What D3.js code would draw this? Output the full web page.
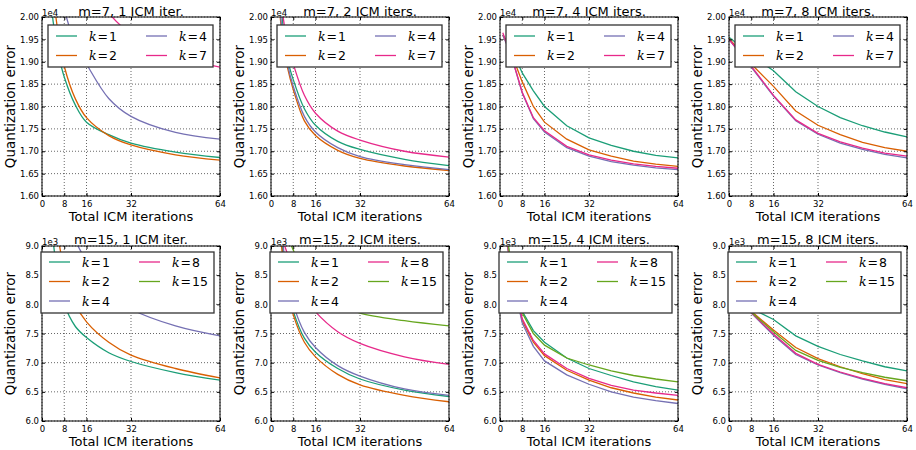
<!DOCTYPE html>
<html>
<head>
<meta charset="utf-8">
<script src="https://cdn.jsdelivr.net/npm/d3@7"></script>
<style>
  body { margin: 0; background: #fff; }
  text { font-family: "DejaVu Sans", sans-serif; fill: #000; }
</style>
</head>
<body>
<div id="chart"></div>
<script>
// x positions (total ICM iterations) at which each run was recorded
const xSmooth = [2, 4, 6, 8, 12, 16, 24, 32, 48, 64];
const xEvery4 = [1, 4, 8, 12, 16, 24, 32, 40, 48, 56, 64];
const xEvery8 = [0, 8, 16, 24, 32, 40, 48, 56, 64];

const xTicks = [0, 8, 16, 32, 64];
const yTicksM7 = [1.60, 1.65, 1.70, 1.75, 1.80, 1.85, 1.90, 1.95, 2.00];
const yTicksM15 = [6.0, 6.5, 7.0, 7.5, 8.0, 8.5, 9.0];

const titles = ["m=7, 1 ICM iter.", "m=7, 2 ICM iters.", "m=7, 4 ICM iters.", "m=7, 8 ICM iters.",
                "m=15, 1 ICM iter.", "m=15, 2 ICM iters.", "m=15, 4 ICM iters.", "m=15, 8 ICM iters."];

const kM7 = [1, 2, 4, 7];
const kM15 = [1, 2, 4, 8, 15];
const colors = ["#1b9e77", "#d95f02", "#7570b3", "#e7298a", "#66a61e"];

// m=7 values (x1e4)
const m7i1 = [
  [2.15, 1.99, 1.915, 1.866, 1.803, 1.765, 1.737, 1.718, 1.698, 1.686],
  [2.30, 2.06, 1.955, 1.89, 1.817, 1.775, 1.735, 1.714, 1.692, 1.680],
  [2.60, 2.30, 2.12, 2.02, 1.94, 1.895, 1.818, 1.778, 1.742, 1.727],
  [3.20, 2.80, 2.55, 2.40, 2.22, 2.12, 2.01, 1.963, 1.915, 1.888]
];
const m7i2 = [
  [2.20, 2.00, 1.905, 1.86, 1.795, 1.758, 1.722, 1.704, 1.682, 1.668],
  [2.10, 1.96, 1.885, 1.838, 1.768, 1.735, 1.702, 1.684, 1.667, 1.657],
  [2.12, 1.97, 1.893, 1.845, 1.778, 1.743, 1.708, 1.688, 1.670, 1.659],
  [2.35, 2.02, 1.94, 1.895, 1.825, 1.785, 1.745, 1.725, 1.700, 1.687]
];
const m7i4 = [
  [1.96, 1.93, 1.875, 1.835, 1.80, 1.757, 1.730, 1.713, 1.700, 1.691, 1.685],
  [1.96, 1.92, 1.855, 1.80, 1.765, 1.727, 1.703, 1.689, 1.678, 1.671, 1.666],
  [1.96, 1.915, 1.83, 1.773, 1.743, 1.708, 1.689, 1.677, 1.669, 1.663, 1.659],
  [1.965, 1.915, 1.832, 1.775, 1.746, 1.711, 1.692, 1.680, 1.672, 1.666, 1.662]
];
const m7i8 = [
  [1.955, 1.915, 1.88, 1.833, 1.80, 1.775, 1.757, 1.743, 1.732],
  [1.952, 1.895, 1.845, 1.79, 1.758, 1.737, 1.72, 1.708, 1.70],
  [1.950, 1.888, 1.823, 1.768, 1.738, 1.718, 1.704, 1.693, 1.685],
  [1.950, 1.890, 1.825, 1.770, 1.740, 1.721, 1.707, 1.696, 1.689]
];

// m=15 values (x1e3)
const m15i1 = [
  [10.5, 9.1, 8.4, 8.0, 7.62, 7.43, 7.17, 7.02, 6.83, 6.70],
  [12.0, 10.0, 9.1, 8.6, 8.0, 7.70, 7.35, 7.13, 6.90, 6.74],
  [15.0, 12.0, 10.5, 9.9, 9.1, 8.75, 8.2, 7.92, 7.63, 7.46],
  [20.0, 16.0, 14.0, 13.0, 12.0, 11.4, 10.8, 10.4, 10.0, 9.8],
  [25.0, 20.0, 18.0, 17.0, 15.5, 14.6, 13.6, 13.0, 12.4, 12.0]
];
const m15i2 = [
  [10.5, 9.0, 8.25, 7.88, 7.42, 7.18, 6.90, 6.72, 6.53, 6.42],
  [10.2, 8.9, 8.2, 7.82, 7.35, 7.10, 6.80, 6.62, 6.44, 6.33],
  [10.8, 9.2, 8.4, 8.0, 7.52, 7.26, 6.95, 6.77, 6.55, 6.44],
  [13.0, 9.2, 8.85, 8.55, 8.12, 7.87, 7.53, 7.33, 7.10, 6.97],
  [14.0, 10.8, 9.2, 8.93, 8.5, 8.25, 8.0, 7.85, 7.72, 7.63]
];
const m15i4 = [
  [9.6, 8.7, 7.88, 7.55, 7.35, 7.08, 6.90, 6.78, 6.67, 6.59, 6.53],
  [9.6, 8.6, 7.72, 7.35, 7.12, 6.87, 6.70, 6.57, 6.48, 6.41, 6.36],
  [9.6, 8.55, 7.68, 7.28, 7.03, 6.79, 6.63, 6.50, 6.41, 6.35, 6.30],
  [9.6, 8.6, 7.75, 7.38, 7.15, 6.90, 6.73, 6.61, 6.53, 6.48, 6.44],
  [9.6, 8.7, 7.85, 7.50, 7.30, 7.08, 6.96, 6.86, 6.78, 6.72, 6.67]
];
const m15i8 = [
  [8.3, 7.93, 7.74, 7.46, 7.28, 7.14, 7.03, 6.93, 6.86],
  [8.3, 7.88, 7.56, 7.26, 7.07, 6.93, 6.81, 6.71, 6.64],
  [8.3, 7.85, 7.47, 7.14, 6.96, 6.83, 6.72, 6.63, 6.55],
  [8.3, 7.86, 7.49, 7.16, 6.97, 6.84, 6.73, 6.64, 6.57],
  [8.3, 7.87, 7.53, 7.21, 7.04, 6.92, 6.83, 6.75, 6.69]
];

const panels = [
  { xs: xSmooth, vals: m7i1, ks: kM7, smooth: true },
  { xs: xSmooth, vals: m7i2, ks: kM7, smooth: true },
  { xs: xEvery4, vals: m7i4, ks: kM7, smooth: false },
  { xs: xEvery8, vals: m7i8, ks: kM7, smooth: false },
  { xs: xSmooth, vals: m15i1, ks: kM15, smooth: true },
  { xs: xSmooth, vals: m15i2, ks: kM15, smooth: true },
  { xs: xEvery4, vals: m15i4, ks: kM15, smooth: false },
  { xs: xEvery8, vals: m15i8, ks: kM15, smooth: false }
];

const width = 916, height = 450;
const plotW = 178;
const rowTop = [17, 246];
const rowH = [179, 175];

const svg = d3.select("#chart").append("svg")
  .attr("width", width)
  .attr("height", height);

panels.forEach((p, i) => {
  const row = i < 4 ? 0 : 1;
  const col = i % 4;
  const left = 42 + col * 229;
  const top = rowTop[row];
  const h = rowH[row];
  const yTicks = row === 0 ? yTicksM7 : yTicksM15;
  const fmt = row === 0 ? d3.format(".2f") : d3.format(".1f");

  const x = d3.scaleLinear().domain([0, 64]).range([0, plotW]);
  const y = d3.scaleLinear().domain([yTicks[0], yTicks[yTicks.length - 1]]).range([h, 0]);

  const g = svg.append("g").attr("transform", `translate(${left},${top})`);

  // dotted grid
  g.append("g").selectAll("line").data(xTicks).enter().append("line")
    .attr("x1", d => x(d)).attr("x2", d => x(d))
    .attr("y1", 0).attr("y2", h)
    .attr("stroke", "#000").attr("stroke-width", 0.6).attr("stroke-dasharray", "1,2");
  g.append("g").selectAll("line").data(yTicks).enter().append("line")
    .attr("x1", 0).attr("x2", plotW)
    .attr("y1", d => y(d)).attr("y2", d => y(d))
    .attr("stroke", "#000").attr("stroke-width", 0.6).attr("stroke-dasharray", "1,2");

  // clip to plot area
  const clipId = `clip${i}`;
  g.append("clipPath").attr("id", clipId)
    .append("rect").attr("width", plotW).attr("height", h);

  const line = d3.line()
    .x(d => x(d[0]))
    .y(d => y(d[1]))
    .curve(p.smooth ? d3.curveCatmullRom.alpha(0.5) : d3.curveLinear);

  g.append("g").attr("clip-path", `url(#${clipId})`)
    .selectAll("path").data(p.vals).enter().append("path")
    .attr("d", v => line(v.map((val, j) => [p.xs[j], val])))
    .attr("fill", "none")
    .attr("stroke", (v, j) => colors[j])
    .attr("stroke-width", 1.3);

  // axes, ticks pointing inward on all sides
  g.append("g").attr("transform", `translate(0,${h})`)
    .call(d3.axisBottom(x).tickValues(xTicks).tickSize(-3).tickPadding(4.5));
  g.append("g")
    .call(d3.axisLeft(y).tickValues(yTicks).tickFormat(fmt).tickSize(-3).tickPadding(3));
  g.append("g").call(d3.axisTop(x).tickValues(xTicks).tickSize(-3).tickFormat(""));
  g.append("g").attr("transform", `translate(${plotW},0)`)
    .call(d3.axisRight(y).tickValues(yTicks).tickSize(-3).tickFormat(""));
  g.selectAll(".domain").remove();
  g.selectAll(".tick text").style("font-family", "DejaVu Sans").style("font-size", "8.5px");

  g.append("rect").attr("width", plotW).attr("height", h)
    .attr("fill", "none").attr("stroke", "#000").attr("stroke-width", 1);

  // offset text
  g.append("text").attr("x", 0).attr("y", -1)
    .style("font-size", "8.5px")
    .text(row === 0 ? "1e4" : "1e3");

  // title and axis labels
  g.append("text").attr("x", plotW / 2).attr("y", row === 0 ? -1 : -2.5)
    .attr("text-anchor", "middle").style("font-size", "13px")
    .text(titles[i]);
  g.append("text").attr("x", plotW / 2).attr("y", h + 24.5)
    .attr("text-anchor", "middle").style("font-size", "13px")
    .text("Total ICM iterations");
  g.append("text")
    .attr("transform", `translate(-27,${h / 2}) rotate(-90)`)
    .attr("text-anchor", "middle").style("font-size", "13.5px")
    .text("Quantization error");

  // legend
  const nRows = Math.ceil(p.ks.length / 2);
  const lg = g.append("g").attr("transform", row === 0 ? "translate(6,8)" : "translate(-1,6)");
  const lw = row === 0 ? 165 : 173;
  const lh = row === 0 ? 42 : 61;
  lg.append("rect").attr("width", lw).attr("height", lh)
    .attr("fill", "#fff").attr("stroke", "#333").attr("stroke-width", 1.3);
  p.ks.forEach((k, j) => {
    const c = j < nRows ? 0 : 1;
    const r = j < nRows ? j : j - nRows;
    const lx = c === 0 ? 8 : 98;
    const ly = (row === 0 ? 11 : 10) + r * 19.5;
    lg.append("line").attr("x1", lx).attr("x2", lx + 21)
      .attr("y1", ly).attr("y2", ly)
      .attr("stroke", colors[j]).attr("stroke-width", 1.3);
    const t = lg.append("text").attr("x", lx + 33).attr("y", ly + 4.5)
      .style("font-size", "12.5px");
    t.append("tspan").style("font-family", "DejaVu Serif").style("font-style", "italic").text("k");
    t.append("tspan").style("font-family", "DejaVu Serif").attr("dx", 1).text("=");
    t.append("tspan").attr("dx", 1).text(k);
  });
});
</script>
</body>
</html>
